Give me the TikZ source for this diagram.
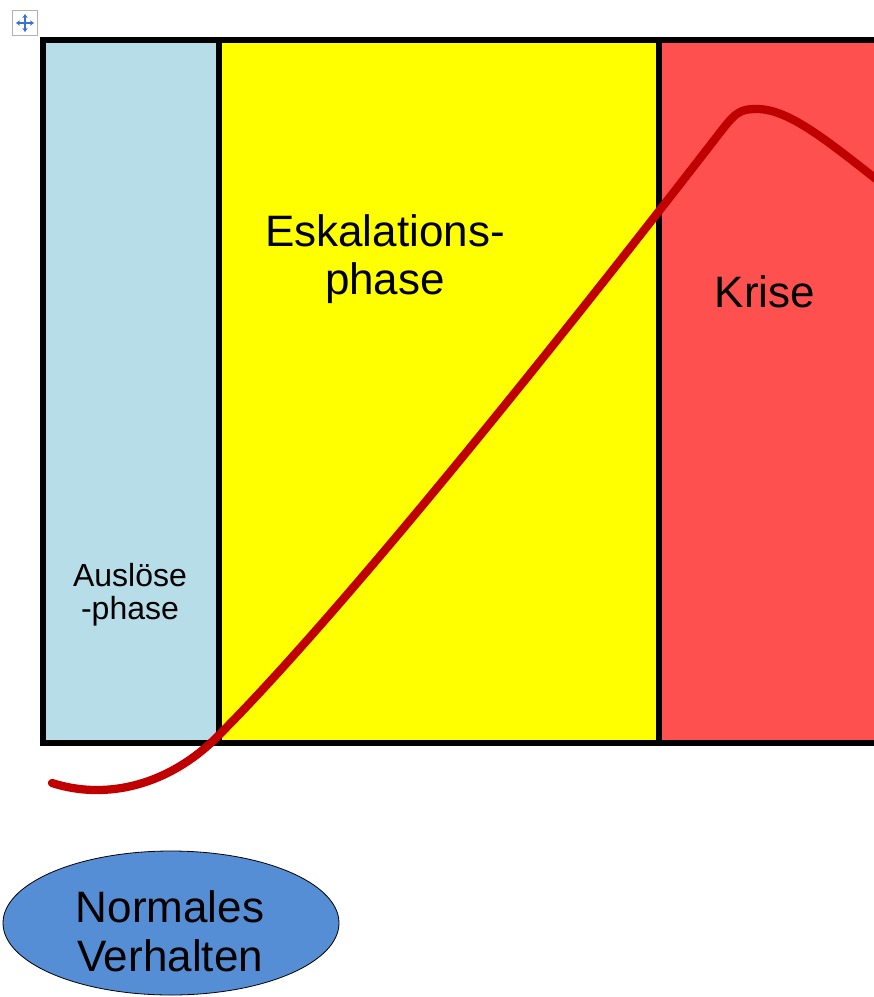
\documentclass[tikz,border=0pt]{standalone}
\usepackage{fontspec}
\setmainfont{Liberation Sans}
\usetikzlibrary{shapes.geometric,arrows.meta}
\definecolor{phaseblue}{HTML}{B7DDE8}
\definecolor{phaseyellow}{HTML}{FFFF00}
\definecolor{phasered}{HTML}{FF5050}
\definecolor{curvered}{HTML}{C00000}
\definecolor{ellblue}{HTML}{558ED5}
\definecolor{handleblue}{HTML}{3A6FD8}
\tikzset{
  phasebox/.style={draw=black,line width=3.8pt},
  biglabel/.style={font=\fontsize{33}{36}\selectfont,align=center,text=black},
  smalllabel/.style={font=\fontsize{24}{25}\selectfont,align=center,text=black},
  curve/.style={draw=curvered,line width=6.2pt,line cap=round,line join=round},
}
\begin{document}
\begin{tikzpicture}[x=0.75pt,y=-0.75pt]
\useasboundingbox (0,0) rectangle (874,997);
\begin{scope}
\clip (0,0) rectangle (874,997);
% phase areas
\fill[phaseblue] (43,40) rectangle (219,743);
\fill[phaseyellow] (219,40) rectangle (659,743);
\fill[phasered] (659,40) rectangle (900,743);
\draw[phasebox] (900,40) -- (43,40) -- (43,743) -- (900,743);
\draw[phasebox] (219,40) -- (219,743);
\draw[phasebox] (659,40) -- (659,743);
% labels
\node[smalllabel] (ausl) at (130,595) {Auslöse\\-phase};
\node[biglabel] (eska) at (385,259) {Eskalations-\\phase};
\node[biglabel] (krise) at (765,292) {Krise};
% curve
\draw[curve] (52,783) .. controls (108,801) and (170,784) .. (217,737)
  .. controls (367,587) and (637,240) .. (715,139)
  .. controls (735,113) and (738,109) .. (757,109)
  .. controls (790,109) and (830,143) .. (890,190);
\end{scope}
% ellipse
\node[ellipse,draw=black,line width=0.6pt,fill=ellblue,
  minimum width=252pt,minimum height=108pt,inner sep=0pt] (normal) at (171,923) {};
\node[biglabel,font=\fontsize{33}{37}\selectfont] (normtext) at (170,931) {Normales\\Verhalten};
% table move handle
\node[draw=gray!60,fill=white,line width=0.8pt,minimum width=19pt,minimum height=19pt,inner sep=0pt] (handle) at (25,23) {};
\draw[handleblue,line width=1.1pt,-{Stealth[length=3pt,width=4pt]}] (handle.center) -- ++(0,-9);
\draw[handleblue,line width=1.1pt,-{Stealth[length=3pt,width=4pt]}] (handle.center) -- ++(0,9);
\draw[handleblue,line width=1.1pt,-{Stealth[length=3pt,width=4pt]}] (handle.center) -- ++(-9,0);
\draw[handleblue,line width=1.1pt,-{Stealth[length=3pt,width=4pt]}] (handle.center) -- ++(9,0);
\end{tikzpicture}
\end{document}
